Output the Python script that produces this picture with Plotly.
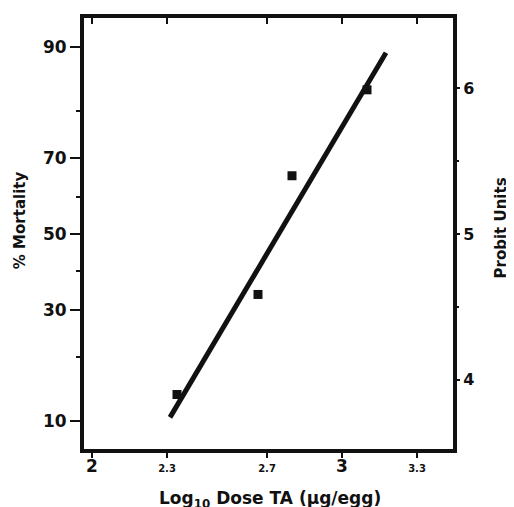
import plotly.graph_objects as go
from statistics import NormalDist

# Data (x: log10 dose, y: probit units)
log_dose = [2.34, 2.664, 2.80, 3.10]
probit = [3.898, 4.585, 5.40, 5.99]
fit_dose = [2.312, 3.176]
fit_probit = [3.741, 6.245]

# Tick definitions
mortality_major = [10, 30, 50, 70, 90]
mortality_minor = [20, 40, 60, 80]
probit_major = [4, 5, 6]
probit_minor = [4.5, 5.5]
x_ticks = [2, 2.3, 2.7, 3, 3.3]
x_labels = ["2", "2.3", "2.7", "3", "3.3"]


def to_probit(p):
    return 5 + NormalDist().inv_cdf(p / 100.0)


X_RANGE = [1.968, 3.444]
Y_RANGE = [3.524, 6.483]
INK = "#111111"
FONT = "DejaVu Sans"

fig = go.Figure()
fig.add_trace(go.Scatter(x=fit_dose, y=fit_probit, mode="lines",
                         line=dict(color=INK, width=5), showlegend=False,
                         hoverinfo="skip"))
fig.add_trace(go.Scatter(x=log_dose, y=probit, mode="markers",
                         marker=dict(symbol="square", size=9, color=INK),
                         showlegend=False))
# invisible helper trace so the secondary axes render
fig.add_trace(go.Scatter(x=[X_RANGE[0]], y=[Y_RANGE[0]], xaxis="x2", yaxis="y2",
                         mode="markers", marker=dict(opacity=0), showlegend=False,
                         hoverinfo="skip"))

small = lambda s: f"<span style='font-size:10px'>{s}</span>"
x_ticktext = [t if t in ("2", "3") else small(t) for t in x_labels]

# the page body adds an 8px offset, so the figure is 8px smaller than the window
fig.update_layout(
    width=506, height=499,
    margin=dict(l=76, r=61, t=6, b=58),
    paper_bgcolor="white", plot_bgcolor="white",
    font=dict(family=FONT, color=INK, size=16, weight="bold"),
    xaxis=dict(range=X_RANGE, tickmode="array", tickvals=x_ticks, ticktext=x_ticktext,
               ticks="outside", ticklen=5, tickwidth=2, tickcolor=INK,
               ticklabelstandoff=-6,
               showline=True, linewidth=4, linecolor=INK, mirror=True,
               showgrid=False, zeroline=False,
               tickfont=dict(family=FONT, size=17, color=INK, weight="bold")),
    xaxis2=dict(range=X_RANGE, overlaying="x", side="top", tickmode="array",
                tickvals=x_ticks, ticks="inside", ticklen=6, tickwidth=2, tickcolor=INK,
                showticklabels=False, showline=False, showgrid=False, zeroline=False),
    yaxis=dict(range=Y_RANGE, tickmode="array",
               tickvals=[to_probit(p) for p in mortality_major],
               ticktext=[str(p) for p in mortality_major],
               ticks="outside", ticklen=10, tickwidth=2, tickcolor=INK,
               minor=dict(tickmode="array", tickvals=[to_probit(p) for p in mortality_minor],
                          ticks="outside", ticklen=4, tickwidth=2, tickcolor=INK),
               showline=True, linewidth=4, linecolor=INK, mirror=True,
               showgrid=False, zeroline=False,
               tickfont=dict(family=FONT, size=17, color=INK, weight="bold")),
    yaxis2=dict(range=Y_RANGE, overlaying="y", side="right", tickmode="array",
                tickvals=probit_major, ticktext=[str(v) for v in probit_major],
                ticks="outside", ticklen=6, tickwidth=2, tickcolor=INK,
                minor=dict(tickmode="array", tickvals=probit_minor,
                           ticks="outside", ticklen=5, tickwidth=2, tickcolor=INK),
                showline=False, showgrid=False, zeroline=False,
                tickfont=dict(family=FONT, size=16, color=INK, weight="bold")),
    annotations=[
        dict(text="% Mortality", xref="paper", yref="paper", x=-0.1734, y=0.531,
             textangle=-90, showarrow=False, xanchor="center", yanchor="middle",
             font=dict(family=FONT, size=15, color=INK, weight="bold")),
        dict(text="Probit Units", xref="paper", yref="paper", x=1.129, y=0.513,
             textangle=-90, showarrow=False, xanchor="center", yanchor="middle",
             font=dict(family=FONT, size=15, color=INK, weight="bold")),
        dict(text="Log<sub>10</sub> Dose TA (\u00b5g/egg)", xref="paper", yref="paper",
             x=0.504, y=-0.117, showarrow=False, xanchor="center", yanchor="middle",
             font=dict(family=FONT, size=17, color=INK, weight="bold")),
    ],
)

fig.write_html("out.html")
